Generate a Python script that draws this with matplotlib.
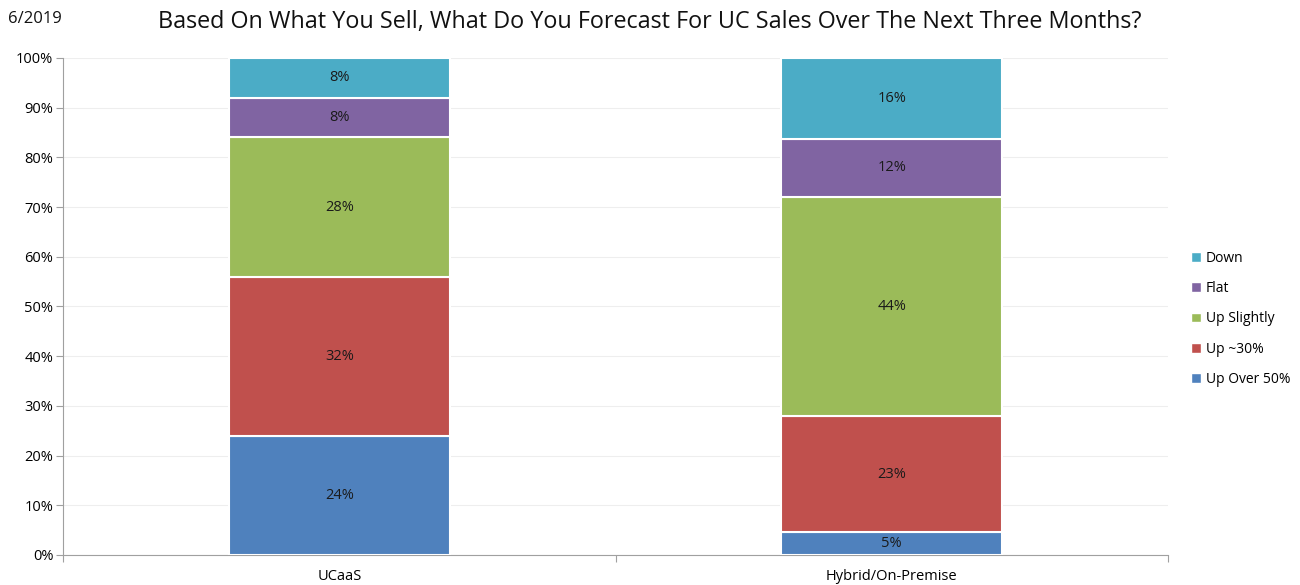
import matplotlib
matplotlib.use("Agg")
import matplotlib.pyplot as plt
from matplotlib.patches import Patch
import numpy as np

plt.rcParams['font.family'] = ['Open Sans', 'DejaVu Sans']

categories = ["UCaaS", "Hybrid/On-Premise"]
series_names = ["Up Over 50%", "Up ~30%", "Up Slightly", "Flat", "Down"]
up_over_50 = [24.0, 4.65]
up_30 = [32.0, 23.26]
up_slightly = [28.0, 44.19]
flat = [8.0, 11.63]
down = [8.0, 16.28]
colors = ["#4F81BD", "#C0504D", "#9BBB59", "#8064A2", "#4BACC6"]
title = "Based On What You Sell, What Do You Forecast For UC Sales Over The Next Three Months?"
date_label = "6/2019"

series = [up_over_50, up_30, up_slightly, flat, down]

fig = plt.figure(figsize=(13, 5.85), dpi=100)
ax = fig.add_axes([0.0485, 0.0513, 0.85, 0.8496])

x = np.arange(len(categories))
bottom = np.zeros(len(categories))
for vals, col in zip(series, colors):
    vals = np.array(vals)
    ax.bar(x, vals, 0.4, bottom=bottom, color=col, edgecolor="white", linewidth=1.5, zorder=3)
    for xi, v, b in zip(x, vals, bottom):
        ax.text(xi, b + v / 2, f"{v:.0f}%", ha="center", va="center", fontsize=10.5, color="#1a1a1a", zorder=4)
    bottom += vals

ax.set_xlim(-0.5, 1.5)
ax.set_ylim(0, 100)
ax.set_yticks(np.arange(0, 101, 10))
ax.set_yticklabels([f"{v}%" for v in range(0, 101, 10)], fontsize=10.5)
ax.yaxis.grid(True, color="#EEEEEE", linewidth=0.8, zorder=0)
ax.set_axisbelow(True)
ax.set_xticks([-0.5, 0.5, 1.5], minor=False)
ax.set_xticklabels([])
ax.set_xticks(x, minor=True)
ax.set_xticklabels(categories, minor=True, fontsize=10.5)
ax.tick_params(axis="x", which="minor", length=0, pad=10)
ax.tick_params(axis="x", which="major", length=5, color="#A0A0A0")
ax.tick_params(axis="y", length=5, color="#A0A0A0", pad=2)
for s in ["top", "right"]:
    ax.spines[s].set_visible(False)
ax.spines["left"].set_color("#A0A0A0")
ax.spines["bottom"].set_color("#A0A0A0")

handles = [Patch(facecolor=c, edgecolor="white", label=n) for n, c in zip(series_names, colors)]
handles = handles[::-1]
fig.legend(handles=handles, loc="center left", bbox_to_anchor=(0.914, 0.455), frameon=False,
           fontsize=10, handlelength=0.7, handleheight=0.7, handletextpad=0.35, labelspacing=1.1,
           borderaxespad=0, borderpad=0.2)

fig.text(0.5, 0.962, title, ha="center", va="center", fontsize=16.8, color="#111111")
fig.text(0.006, 0.968, date_label, ha="left", va="center", fontsize=12, color="#111111")

fig.savefig("out.png", dpi=100, facecolor="white")
